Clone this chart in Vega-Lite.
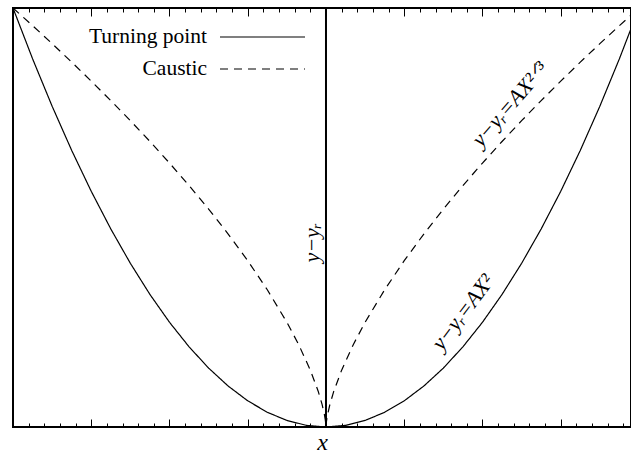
{
  "$schema": "https://vega.github.io/schema/vega-lite/v6.json",
  "width": 618,
  "height": 419,
  "autosize": "none",
  "padding": {"left": 13, "top": 8, "right": 0, "bottom": 28},
  "background": "white",
  "config": {"view": {"stroke": "black", "strokeWidth": 2}, "font": "Liberation Serif"},
  "datasets": {
    "curves": [
      {"series": "Turning point", "X": -4, "Y": 5},
      {"series": "Turning point", "X": -3.75, "Y": 4.3945},
      {"series": "Turning point", "X": -3.5, "Y": 3.8281},
      {"series": "Turning point", "X": -3.25, "Y": 3.3008},
      {"series": "Turning point", "X": -3, "Y": 2.8125},
      {"series": "Turning point", "X": -2.75, "Y": 2.3633},
      {"series": "Turning point", "X": -2.5, "Y": 1.9531},
      {"series": "Turning point", "X": -2.25, "Y": 1.582},
      {"series": "Turning point", "X": -2, "Y": 1.25},
      {"series": "Turning point", "X": -1.75, "Y": 0.957},
      {"series": "Turning point", "X": -1.5, "Y": 0.7031},
      {"series": "Turning point", "X": -1.25, "Y": 0.4883},
      {"series": "Turning point", "X": -1, "Y": 0.3125},
      {"series": "Turning point", "X": -0.75, "Y": 0.1758},
      {"series": "Turning point", "X": -0.5, "Y": 0.0781},
      {"series": "Turning point", "X": -0.25, "Y": 0.0195},
      {"series": "Turning point", "X": 0, "Y": 0},
      {"series": "Turning point", "X": 0.25, "Y": 0.0195},
      {"series": "Turning point", "X": 0.5, "Y": 0.0781},
      {"series": "Turning point", "X": 0.75, "Y": 0.1758},
      {"series": "Turning point", "X": 1, "Y": 0.3125},
      {"series": "Turning point", "X": 1.25, "Y": 0.4883},
      {"series": "Turning point", "X": 1.5, "Y": 0.7031},
      {"series": "Turning point", "X": 1.75, "Y": 0.957},
      {"series": "Turning point", "X": 2, "Y": 1.25},
      {"series": "Turning point", "X": 2.25, "Y": 1.582},
      {"series": "Turning point", "X": 2.5, "Y": 1.9531},
      {"series": "Turning point", "X": 2.75, "Y": 2.3633},
      {"series": "Turning point", "X": 3, "Y": 2.8125},
      {"series": "Turning point", "X": 3.25, "Y": 3.3008},
      {"series": "Turning point", "X": 3.5, "Y": 3.8281},
      {"series": "Turning point", "X": 3.75, "Y": 4.3945},
      {"series": "Turning point", "X": 4, "Y": 5},
      {"series": "Caustic", "X": -4, "Y": 5},
      {"series": "Caustic", "X": -3.75, "Y": 4.7896},
      {"series": "Caustic", "X": -3.5, "Y": 4.5744},
      {"series": "Caustic", "X": -3.25, "Y": 4.3538},
      {"series": "Caustic", "X": -3, "Y": 4.1275},
      {"series": "Caustic", "X": -2.75, "Y": 3.895},
      {"series": "Caustic", "X": -2.5, "Y": 3.6551},
      {"series": "Caustic", "X": -2.25, "Y": 3.4072},
      {"series": "Caustic", "X": -2, "Y": 3.1499},
      {"series": "Caustic", "X": -1.75, "Y": 2.8816},
      {"series": "Caustic", "X": -1.5, "Y": 2.6002},
      {"series": "Caustic", "X": -1.25, "Y": 2.3026},
      {"series": "Caustic", "X": -1, "Y": 1.9843},
      {"series": "Caustic", "X": -0.75, "Y": 1.638},
      {"series": "Caustic", "X": -0.5, "Y": 1.25},
      {"series": "Caustic", "X": -0.35, "Y": 0.9855},
      {"series": "Caustic", "X": -0.2, "Y": 0.6786},
      {"series": "Caustic", "X": -0.1, "Y": 0.4275},
      {"series": "Caustic", "X": -0.05, "Y": 0.2693},
      {"series": "Caustic", "X": -0.02, "Y": 0.1462},
      {"series": "Caustic", "X": -0.01, "Y": 0.0921},
      {"series": "Caustic", "X": -0.005, "Y": 0.058},
      {"series": "Caustic", "X": 0, "Y": 0},
      {"series": "Caustic", "X": 0.005, "Y": 0.058},
      {"series": "Caustic", "X": 0.01, "Y": 0.0921},
      {"series": "Caustic", "X": 0.02, "Y": 0.1462},
      {"series": "Caustic", "X": 0.05, "Y": 0.2693},
      {"series": "Caustic", "X": 0.1, "Y": 0.4275},
      {"series": "Caustic", "X": 0.2, "Y": 0.6786},
      {"series": "Caustic", "X": 0.35, "Y": 0.9855},
      {"series": "Caustic", "X": 0.5, "Y": 1.25},
      {"series": "Caustic", "X": 0.75, "Y": 1.638},
      {"series": "Caustic", "X": 1, "Y": 1.9843},
      {"series": "Caustic", "X": 1.25, "Y": 2.3026},
      {"series": "Caustic", "X": 1.5, "Y": 2.6002},
      {"series": "Caustic", "X": 1.75, "Y": 2.8816},
      {"series": "Caustic", "X": 2, "Y": 3.1499},
      {"series": "Caustic", "X": 2.25, "Y": 3.4072},
      {"series": "Caustic", "X": 2.5, "Y": 3.6551},
      {"series": "Caustic", "X": 2.75, "Y": 3.895},
      {"series": "Caustic", "X": 3, "Y": 4.1275},
      {"series": "Caustic", "X": 3.25, "Y": 4.3538},
      {"series": "Caustic", "X": 3.5, "Y": 4.5744},
      {"series": "Caustic", "X": 3.75, "Y": 4.7896},
      {"series": "Caustic", "X": 4, "Y": 5}
    ],
    "center": [{"X": 0, "Y0": 0, "Y1": 5}],
    "labelVertical": [{"X": -0.18, "Y": 2.2, "label": "y−yᵣ"}],
    "labelCaustic": [{"X": 2.35, "Y": 3.85, "label": "y−yᵣ=AX²ᐟ³"}],
    "labelParabola": [{"X": 1.75, "Y": 1.37, "label": "y−yᵣ=AX²"}]
  },
  "layer": [
    {
      "data": {"name": "curves"},
      "mark": {"type": "line", "color": "black", "strokeWidth": 1.2, "clip": true},
      "encoding": {
        "x": {
          "field": "X", "type": "quantitative",
          "scale": {"domain": [-4, 3.898], "nice": false, "zero": false},
          "axis": {
            "orient": "bottom",
            "values": [-4, -3.8, -3.6, -3.4, -3.2, -3, -2.8, -2.6, -2.4, -2.2, -2, -1.8, -1.6, -1.4, -1.2, -1, -0.8, -0.6, -0.4, -0.2, 0, 0.2, 0.4, 0.6, 0.8, 1, 1.2, 1.4, 1.6, 1.8, 2, 2.2, 2.4, 2.6, 2.8, 3, 3.2, 3.4, 3.6, 3.8],
            "labels": false, "domain": false, "grid": false,
            "tickColor": "black", "tickWidth": 1,
            "tickSize": {"condition": {"test": "abs(datum.value - round(datum.value)) < 0.001", "value": -8}, "value": -4},
            "title": "x", "titleFont": "Liberation Serif", "titleFontStyle": "italic", "titleFontWeight": "normal", "titleFontSize": 24, "titleColor": "black", "titlePadding": 3
          }
        },
        "y": {
          "field": "Y", "type": "quantitative",
          "scale": {"domain": [0, 5], "nice": false, "zero": false},
          "axis": {
            "orient": "left",
            "values": [0, 0.2, 0.4, 0.6, 0.8, 1, 1.2, 1.4, 1.6, 1.8, 2, 2.2, 2.4, 2.6, 2.8, 3, 3.2, 3.4, 3.6, 3.8, 4, 4.2, 4.4, 4.6, 4.8, 5],
            "labels": false, "domain": false, "grid": false,
            "tickColor": "black", "tickWidth": 1,
            "tickSize": {"condition": {"test": "abs(datum.value - round(datum.value)) < 0.001", "value": -9}, "value": -4.5},
            "title": null
          }
        },
        "strokeDash": {
          "field": "series", "type": "nominal",
          "scale": {"domain": ["Turning point", "Caustic"], "range": [[1, 0], [8, 6]]},
          "legend": {
            "orient": "none", "legendX": 238, "legendY": 17.5, "title": null,
            "symbolType": "M-4,0H4", "symbolSize": 451.5625, "symbolStrokeWidth": 1.2, "symbolStrokeColor": "black", "symbolFillColor": "transparent",
            "rowPadding": 10, "padding": 0,
            "labelAlign": "right", "labelOffset": -67, "labelBaseline": "middle",
            "labelFont": "Liberation Serif", "labelFontSize": 21.5, "labelColor": "black", "labelLimit": 0
          }
        }
      }
    },
    {
      "data": {"name": "center"},
      "mark": {"type": "rule", "color": "black", "strokeWidth": 2},
      "encoding": {
        "x": {
          "field": "X", "type": "quantitative",
          "axis": {
            "orient": "top",
            "values": [-4, -3.8, -3.6, -3.4, -3.2, -3, -2.8, -2.6, -2.4, -2.2, -2, -1.8, -1.6, -1.4, -1.2, -1, -0.8, -0.6, -0.4, -0.2, 0, 0.2, 0.4, 0.6, 0.8, 1, 1.2, 1.4, 1.6, 1.8, 2, 2.2, 2.4, 2.6, 2.8, 3, 3.2, 3.4, 3.6, 3.8],
            "labels": false, "domain": false, "grid": false,
            "tickColor": "black", "tickWidth": 1,
            "tickSize": {"condition": {"test": "abs(datum.value - round(datum.value)) < 0.001", "value": -8}, "value": -4},
            "title": null
          }
        },
        "y": {"field": "Y0", "type": "quantitative", "axis": null},
        "y2": {"field": "Y1"}
      }
    },
    {
      "data": {"name": "labelVertical"},
      "mark": {"type": "text", "angle": 270, "font": "Liberation Serif", "fontStyle": "italic", "fontSize": 22, "align": "center", "baseline": "middle", "color": "black"},
      "encoding": {
        "x": {"field": "X", "type": "quantitative", "axis": null},
        "y": {"field": "Y", "type": "quantitative", "axis": null},
        "text": {"field": "label"}
      }
    },
    {
      "data": {"name": "labelCaustic"},
      "mark": {"type": "text", "angle": 311, "font": "Liberation Serif", "fontStyle": "italic", "fontSize": 22, "align": "center", "baseline": "middle", "color": "black"},
      "encoding": {
        "x": {"field": "X", "type": "quantitative", "axis": null},
        "y": {"field": "Y", "type": "quantitative", "axis": null},
        "text": {"field": "label"}
      }
    },
    {
      "data": {"name": "labelParabola"},
      "mark": {"type": "text", "angle": 307, "font": "Liberation Serif", "fontStyle": "italic", "fontSize": 22, "align": "center", "baseline": "middle", "color": "black"},
      "encoding": {
        "x": {"field": "X", "type": "quantitative", "axis": null},
        "y": {"field": "Y", "type": "quantitative", "axis": null},
        "text": {"field": "label"}
      }
    }
  ]
}
